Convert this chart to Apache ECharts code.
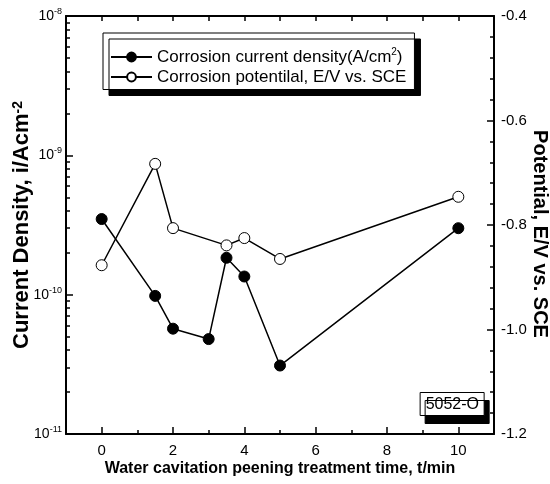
<!DOCTYPE html>
<html>
<head>
<meta charset="utf-8">
<script src="https://cdn.jsdelivr.net/npm/echarts@6/dist/echarts.min.js"></script>
<style>
  html, body { margin: 0; padding: 0; background: #fff; }
  #chart { width: 550px; height: 484px; }
</style>
</head>
<body>
<div id="chart"></div>
<script>
// data
const currentTime = [0, 1.5, 2, 3, 3.5, 4, 5, 10];
const currentDensity = [3.49e-10, 9.8e-11, 5.7e-11, 4.8e-11, 1.84e-10, 1.35e-10, 3.1e-11, 3.0e-10];
const potentialTime = [0, 1.5, 2, 3.5, 4, 5, 10];
const potential = [-0.877, -0.683, -0.806, -0.839, -0.825, -0.865, -0.746];

const xMajorTicks = [0, 2, 4, 6, 8, 10];
const logDecades = [1e-11, 1e-10, 1e-9, 1e-8];
const logMinor = [];
[1e-11, 1e-10, 1e-9].forEach(function (d) {
  for (let k = 2; k <= 9; k++) logMinor.push(k * d);
});

const sans = "'Liberation Sans', Arial, sans-serif";

const chart = echarts.init(document.getElementById('chart'));

const option = {
  animation: false,
  backgroundColor: '#fff',
  // sample label box at lower right
  title: {
    text: '5052-O',
    right: 66,
    bottom: 68,
    padding: [5, 5, 3, 6],
    backgroundColor: '#fff',
    borderColor: '#000',
    borderWidth: 1,
    shadowColor: '#000',
    shadowOffsetX: 5,
    shadowOffsetY: 8,
    shadowBlur: 0,
    textStyle: { fontFamily: sans, fontSize: 16, fontWeight: 'normal', color: '#000' }
  },
  legend: {
    orient: 'vertical',
    left: 103,
    top: 33,
    padding: [14, 8, 4, 7],
    itemGap: 3,
    itemWidth: 41,
    itemHeight: 11,
    backgroundColor: '#fff',
    borderColor: '#000',
    borderWidth: 1,
    shadowColor: '#000',
    shadowOffsetX: 6,
    shadowOffsetY: 6,
    shadowBlur: 0,
    data: ['current', 'potential'],
    formatter: function (name) {
      if (name === 'current') return '{t|Corrosion current density(A/cm}{s|2}{t|)}';
      return '{t|Corrosion potentilal, E/V vs. SCE}';
    },
    textStyle: {
      color: '#000',
      rich: {
        t: { fontFamily: sans, fontSize: 17, color: '#000', lineHeight: 20 },
        s: { fontFamily: sans, fontSize: 10, color: '#000', verticalAlign: 'top', lineHeight: 20 }
      }
    }
  },
  grid: { left: 66, right: 56, top: 16, bottom: 50, outerBoundsMode: 'none', containLabel: false },
  xAxis: [
    {
      type: 'value', position: 'bottom', min: -1, max: 11, interval: 1,
      name: 'Water cavitation peening treatment time, t/min',
      nameLocation: 'middle', nameGap: 27, nameMoveOverlap: false,
      nameTextStyle: { fontFamily: sans, fontSize: 16, fontWeight: 'bold', color: '#000' },
      axisLine: { onZero: false, lineStyle: { color: '#000', width: 2 } },
      axisTick: { inside: true, length: 7, customValues: xMajorTicks, lineStyle: { color: '#000', width: 1.5 } },
      axisLabel: { customValues: xMajorTicks, margin: 9, fontFamily: sans, fontSize: 15, color: '#000' },
      splitLine: { show: false }
    },
    {
      // short ticks at every unit
      type: 'value', position: 'bottom', min: -1, max: 11, interval: 1,
      axisLine: { show: false, onZero: false },
      axisTick: { show: true, inside: true, length: 4, lineStyle: { color: '#000', width: 1.5 } },
      axisLabel: { show: false },
      splitLine: { show: false }
    },
    {
      // mirrored top frame
      type: 'value', position: 'top', min: -1, max: 11, interval: 1,
      axisLine: { onZero: false, lineStyle: { color: '#000', width: 2 } },
      axisTick: { show: true, inside: true, length: 5, lineStyle: { color: '#000', width: 1.5 } },
      axisLabel: { show: false },
      splitLine: { show: false }
    }
  ],
  yAxis: [
    {
      type: 'log', logBase: 10, position: 'left', min: 1e-11, max: 1e-8,
      name: 'Current Density, i/Acm{s|-2}',
      nameLocation: 'middle', nameGap: 33, nameMoveOverlap: false,
      nameTextStyle: {
        fontFamily: sans, fontSize: 22, fontWeight: 'bold', color: '#000',
        rich: { s: { fontFamily: sans, fontSize: 14, fontWeight: 'bold', color: '#000', verticalAlign: 'top' } }
      },
      axisLine: { onZero: false, lineStyle: { color: '#000', width: 2 } },
      axisTick: { inside: true, length: 7, customValues: logDecades, lineStyle: { color: '#000', width: 1.5 } },
      axisLabel: {
        customValues: logDecades,
        margin: 4,
        formatter: function (v) {
          return '{b|10}{s|' + Math.round(Math.log10(v)) + '}';
        },
        rich: {
          b: { fontFamily: sans, fontSize: 14, color: '#000', lineHeight: 18 },
          s: { fontFamily: sans, fontSize: 9, color: '#000', verticalAlign: 'top', lineHeight: 18 }
        }
      },
      splitLine: { show: false }
    },
    {
      // log minor ticks 2..9
      type: 'log', logBase: 10, position: 'left', min: 1e-11, max: 1e-8,
      axisLine: { show: false, onZero: false },
      axisTick: { inside: true, length: 4, customValues: logMinor, lineStyle: { color: '#000', width: 1.5 } },
      axisLabel: { show: false },
      splitLine: { show: false }
    },
    {
      type: 'value', position: 'right', min: -1.2, max: -0.4, interval: 0.2,
      name: 'Potential, E/V vs. SCE',
      nameLocation: 'middle', nameGap: 36, nameRotate: -90, nameMoveOverlap: false,
      nameTextStyle: { fontFamily: sans, fontSize: 20, fontWeight: 'bold', color: '#000', padding: [0, 0, 0, 18] },
      axisLine: { onZero: false, lineStyle: { color: '#000', width: 2 } },
      axisTick: { inside: true, length: 7, lineStyle: { color: '#000', width: 1.5 } },
      minorTick: { show: true, splitNumber: 5, length: 4, lineStyle: { color: '#000', width: 1.5 } },
      axisLabel: {
        margin: 7, fontFamily: sans, fontSize: 15, color: '#000',
        formatter: function (v) { return v.toFixed(1); }
      },
      splitLine: { show: false }
    }
  ],
  series: [
    {
      name: 'current',
      type: 'line',
      xAxisIndex: 0,
      yAxisIndex: 0,
      data: currentTime.map(function (t, i) { return [t, currentDensity[i]]; }),
      symbol: 'circle',
      symbolSize: 11,
      lineStyle: { color: '#000', width: 1.5 },
      itemStyle: { color: '#000', borderColor: '#000', borderWidth: 1 }
    },
    {
      name: 'potential',
      type: 'line',
      xAxisIndex: 0,
      yAxisIndex: 2,
      data: potentialTime.map(function (t, i) { return [t, potential[i]]; }),
      symbol: 'circle',
      symbolSize: 11,
      lineStyle: { color: '#000', width: 1.5 },
      itemStyle: { color: '#fff', borderColor: '#000', borderWidth: 1 }
    }
  ]
};

chart.setOption(option);
</script>
</body>
</html>
